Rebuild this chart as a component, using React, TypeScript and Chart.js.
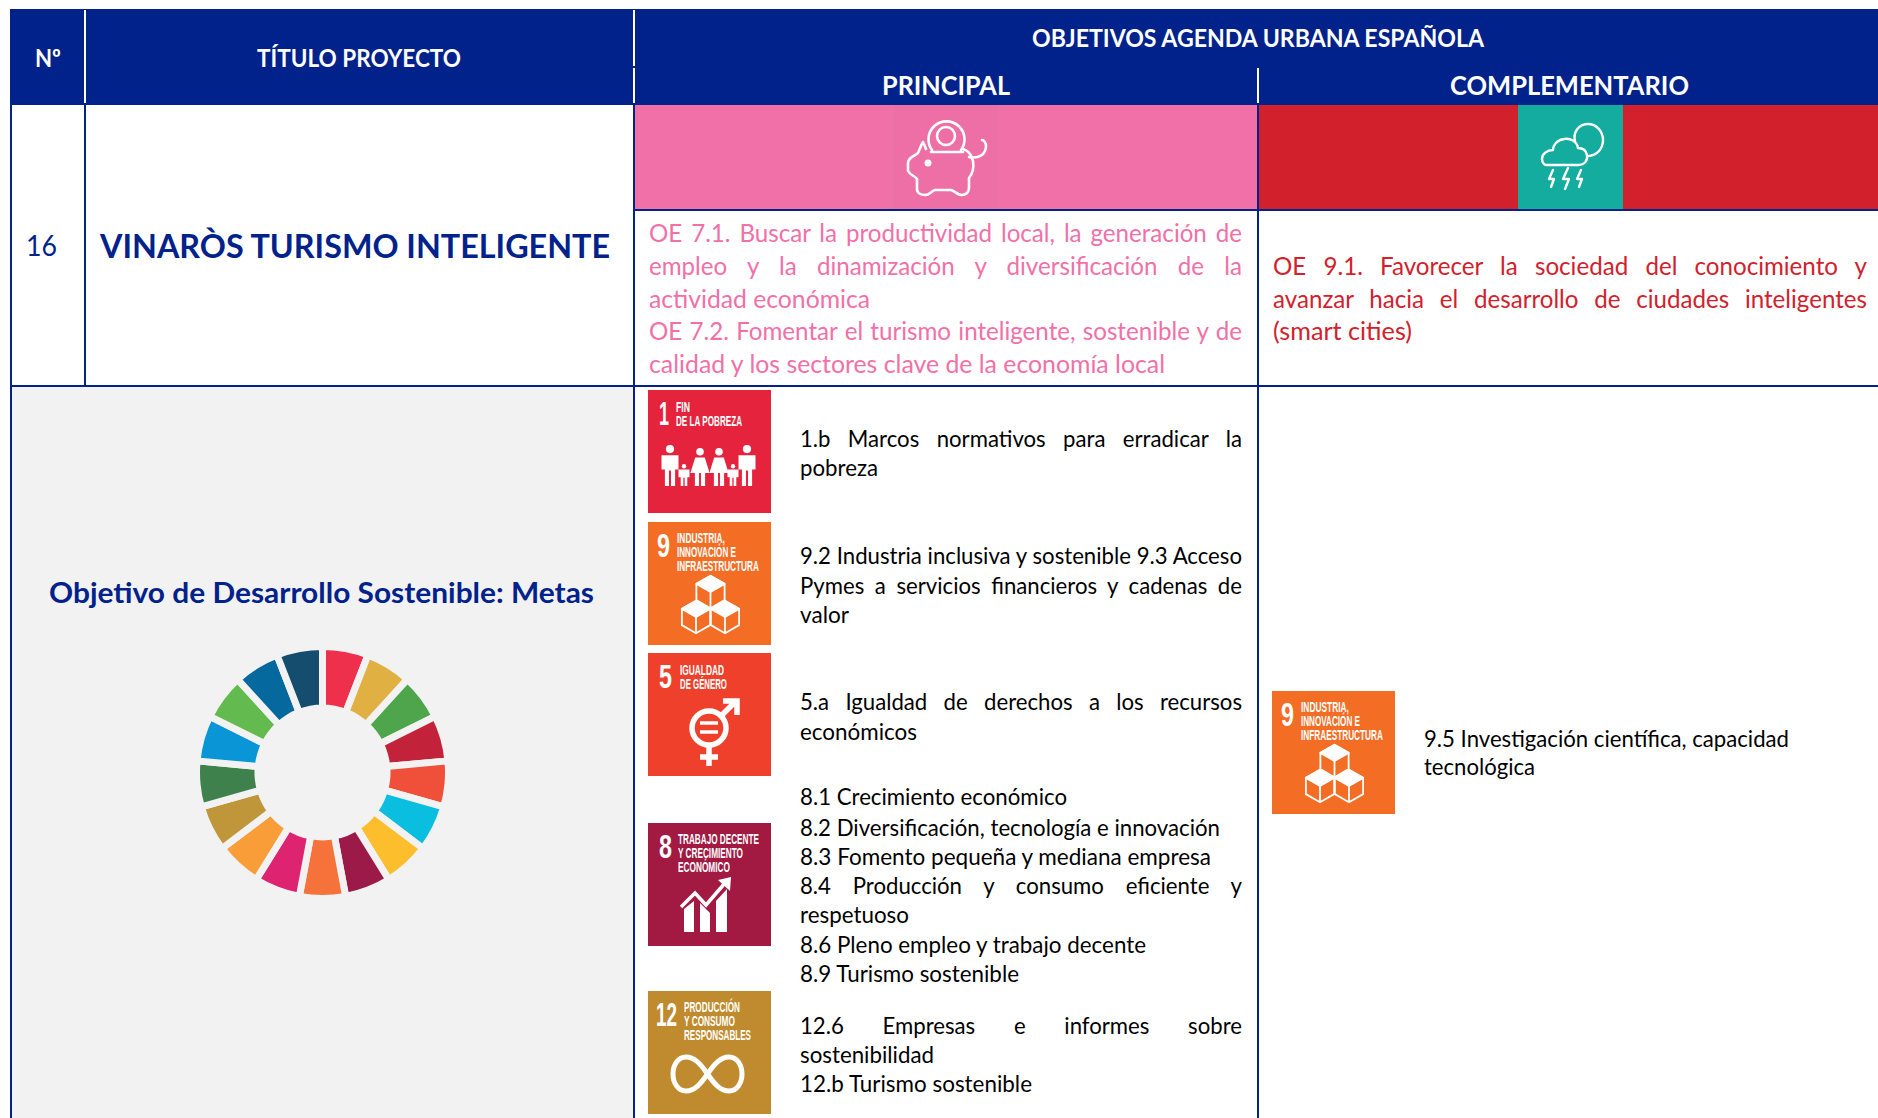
import React, { useEffect, useLayoutEffect, useRef } from "react";
import { Chart, registerables } from "chart.js";

Chart.register(...registerables);

// ---------- chart data ----------
const sdgLabels = [
  "Fin de la pobreza", "Hambre cero", "Salud y bienestar", "Educación de calidad", "Igualdad de género",
  "Agua limpia y saneamiento", "Energía asequible y no contaminante", "Trabajo decente y crecimiento económico",
  "Industria, innovación e infraestructura", "Reducción de las desigualdades", "Ciudades y comunidades sostenibles",
  "Producción y consumo responsables", "Acción por el clima", "Vida submarina", "Vida de ecosistemas terrestres",
  "Paz, justicia e instituciones sólidas", "Alianzas para lograr los objetivos",
];
const sdgValues = [1, 1, 1, 1, 1, 1, 1, 1, 1, 1, 1, 1, 1, 1, 1, 1, 1];
const sdgColors = [
  "#ef304c", "#e0b043", "#4fa54b", "#c2233a", "#f0503a", "#0abee0", "#fcbe2c", "#9c1a48", "#f5733b",
  "#de2370", "#f99d38", "#c0963a", "#3e814d", "#0995d6", "#63ba4e", "#05699d", "#154d6e",
];

// ---------- table text ----------
const pinkLines = [
  "OE 7.1. Buscar la productividad local, la generación de",
  "empleo y la dinamización y diversificación de la",
  "actividad económica",
  "OE 7.2. Fomentar el turismo inteligente, sostenible y de",
  "calidad y los sectores clave de la economía local",
];
const redLines = [
  "OE 9.1. Favorecer la sociedad del conocimiento y",
  "avanzar hacia el desarrollo de ciudades inteligentes",
  "(smart cities)",
];
const metaLines = [
  "1.b Marcos normativos para erradicar la", "pobreza",
  "9.2 Industria inclusiva y sostenible 9.3 Acceso", "Pymes a servicios financieros y cadenas de", "valor",
  "5.a Igualdad de derechos a los recursos", "económicos",
  "8.1 Crecimiento económico", "8.2 Diversificación, tecnología e innovación", "8.3 Fomento pequeña y mediana empresa",
  "8.4 Producción y consumo eficiente y", "respetuoso", "8.6 Pleno empleo y trabajo decente", "8.9 Turismo sostenible",
  "12.6 Empresas e informes sobre", "sostenibilidad", "12.b Turismo sostenible",
];
const compLines = ["9.5 Investigación científica, capacidad", "tecnológica"];

// layout of the lines: [centre y, width]
const pinkLayout = [[232.5, 593], [265.5, 593], [298.5, 221], [330.5, 593], [363.5, 516]];
const redLayout = [[265.5, 594], [298.5, 594], [330.5, 139]];
const metaLayout = [
  [438.5, 442], [467.5, 78], [555.5, 442], [585.5, 442], [614.5, 49], [701.5, 442], [731.5, 117], [797, 267], [827.5, 420],
  [856.5, 411], [885.5, 442], [914.5, 109], [944.5, 346], [973.5, 219], [1025.5, 442], [1054.5, 134], [1083.5, 232],
];
const justified = new Set([
  "OE 7.1. Buscar la productividad local, la generación de",
  "empleo y la dinamización y diversificación de la",
  "OE 7.2. Fomentar el turismo inteligente, sostenible y de",
  "OE 9.1. Favorecer la sociedad del conocimiento y",
  "avanzar hacia el desarrollo de ciudades inteligentes",
  "1.b Marcos normativos para erradicar la",
  "9.2 Industria inclusiva y sostenible 9.3 Acceso",
  "Pymes a servicios financieros y cadenas de",
  "5.a Igualdad de derechos a los recursos",
  "8.4 Producción y consumo eficiente y",
  "12.6 Empresas e informes sobre",
]);

const NAVY = "#00228a";
const FONT = "Lato, 'Noto Sans', sans-serif";
const NARROW = "'Liberation Sans Narrow', 'Liberation Sans', sans-serif";

function Line({ x, y, w, text, size, color, weight = 400 }: any) {
  const ref = useRef<HTMLDivElement>(null);
  const just = justified.has(text);
  const K = 0.985;
  useLayoutEffect(() => {
    const el = ref.current!;
    const nat = el.getBoundingClientRect().width;
    if (just) {
      const k = Math.min(K, w / nat);
      el.style.whiteSpace = "normal";
      el.style.width = w / k + "px";
      el.style.transform = `scaleX(${k})`;
    } else {
      el.style.transform = `scaleX(${w / nat})`;
    }
  }, []);
  const lh = size * 1.3;
  return (
    <div
      ref={ref}
      style={{
        position: "absolute", left: x, top: y - lh / 2, lineHeight: lh + "px", fontSize: size, fontWeight: weight,
        fontFamily: FONT, color, whiteSpace: "nowrap", transformOrigin: "left center",
        textAlign: just ? "justify" : "left", textAlignLast: just ? "justify" : "left",
      }}
    >
      {text}
    </div>
  );
}

function Rect({ x, y, w, h, c }: any) {
  return <div style={{ position: "absolute", left: x, top: y, width: w, height: h, background: c }} />;
}

// white tile text squeezed to the width it has in the reference
function TileText({ x, y, w, size, text }: any) {
  const ref = useRef<SVGTextElement>(null);
  useLayoutEffect(() => {
    const el = ref.current!;
    el.setAttribute("transform", `translate(${x} ${y}) scale(${w / el.getComputedTextLength()} 1)`);
  }, []);
  return <text ref={ref} transform={`translate(${x} ${y})`} fill="#fff" fontFamily={NARROW} fontWeight={700} fontSize={size}>{text}</text>;
}

function cube(cx: number, cy: number, r: number, key: string) {
  const hw = r * 0.866;
  const hex = `${cx},${cy - r} ${cx + hw},${cy - r / 2} ${cx + hw},${cy + r / 2} ${cx},${cy + r} ${cx - hw},${cy + r / 2} ${cx - hw},${cy - r / 2}`;
  const top = `${cx},${cy - r} ${cx + hw},${cy - r / 2} ${cx},${cy} ${cx - hw},${cy - r / 2}`;
  return (
    <g key={key} stroke="#fff" strokeWidth={1.8} strokeLinejoin="round">
      <polygon points={hex} fill="#f36d25" />
      <polygon points={top} fill="#fff" />
      <path d={`M${cx} ${cy}V${cy + r}`} fill="none" />
    </g>
  );
}

function Person({ x, top, bottom, w, skirt }: any) {
  const h = bottom - top;
  const head = h * 0.1;
  return (
    <g fill="#fff">
      <circle cx={x} cy={top + head} r={head} />
      {skirt ? (
        <path d={`M${x - w * 0.3} ${top + h * 0.25}H${x + w * 0.3}L${x + w * 0.6} ${top + h * 0.66}H${x + w * 0.32}V${bottom}H${x + w * 0.06}V${top + h * 0.66}H${x - w * 0.06}V${bottom}H${x - w * 0.32}V${top + h * 0.66}H${x - w * 0.6}Z`} />
      ) : (
        <path d={`M${x - w * 0.5} ${top + h * 0.25}H${x + w * 0.5}V${top + h * 0.6}H${x + w * 0.3}V${bottom}H${x + w * 0.06}V${top + h * 0.62}H${x - w * 0.06}V${bottom}H${x - w * 0.3}V${top + h * 0.6}H${x - w * 0.5}Z`} />
      )}
    </g>
  );
}

function Badge({ x, y, color, num, numX, numW, titleX, title, icon }: any) {
  return (
    <svg style={{ position: "absolute", left: x, top: y }} width={123} height={123} viewBox="0 0 123 123">
      <rect width={123} height={123} fill={color} />
      <TileText x={numX} y={35} w={numW} size={34} text={num} />
      {title.map((t: [string, number], i: number) => (
        <TileText key={i} x={titleX} y={(title.length === 2 ? 22 : 20.5) + i * 14} w={t[1]} size={14.5} text={t[0]} />
      ))}
      {icon}
    </svg>
  );
}

const cubes = [cube(62.5, 70, 16.3, "a"), cube(48, 95, 16.3, "b"), cube(77, 95, 16.3, "c")];

const Badge9 = ({ x, y }: any) => (
  <Badge x={x} y={y} color="#f36d25" num="9" numX={9} numW={13} titleX={29}
    title={[["INDUSTRIA,", 48], ["INNOVACIÓN E", 59], ["INFRAESTRUCTURA", 82]]} icon={cubes} />
);

export default function App() {
  const canvasRef = useRef<HTMLCanvasElement>(null);
  useEffect(() => {
    const chart = new Chart(canvasRef.current!, {
      type: "doughnut",
      data: {
        labels: sdgLabels,
        datasets: [{ data: sdgValues, backgroundColor: sdgColors, borderColor: "#f2f2f2", borderWidth: 7 }],
      },
      options: {
        responsive: false,
        animation: false,
        cutout: "51.2%",
        layout: { padding: 0 },
        plugins: { legend: { display: false }, tooltip: { enabled: false } },
      },
    });
    return () => chart.destroy();
  }, []);

  return (
    <div style={{ position: "fixed", left: 0, top: 0, width: 1878, height: 1118, overflow: "hidden", background: "#fff" }}>
      {/* bands */}
      <Rect x={10} y={9} w={1868} h={96} c={NAVY} />
      <Rect x={635} y={105} w={623} h={105} c="#f170a8" />
      <Rect x={893} y={105} w={105} h={105} c="#ee6fa6" />
      <Rect x={1258} y={105} w={620} h={105} c="#d2212c" />
      <Rect x={1518} y={105} w={105} h={105} c="#14ac9e" />
      <Rect x={12} y={387} w={622} h={731} c="#f2f2f2" />

      {/* header white rules */}
      <Rect x={84} y={10} w={2} h={93} c="#fff" />
      <Rect x={633} y={10} w={2} h={56} c="#fff" />
      <Rect x={633} y={68} w={2} h={35} c="#fff" />
      <Rect x={1257} y={68} w={2} h={35} c="#fff" />

      {/* table rules */}
      <Rect x={10} y={105} w={2} h={1013} c={NAVY} />
      <Rect x={84} y={105} w={2} h={281} c={NAVY} />
      <Rect x={633} y={105} w={2} h={1013} c={NAVY} />
      <Rect x={1257} y={105} w={2} h={1013} c={NAVY} />
      <Rect x={635} y={209} w={1243} h={2} c={NAVY} />
      <Rect x={10} y={385} w={1868} h={2} c={NAVY} />

      {/* header text */}
      <Line x={35} y={57.5} w={26} text="Nº" size={24} color="#fff" weight={700} />
      <Line x={257} y={57.5} w={204} text="TÍTULO PROYECTO" size={24} color="#fff" weight={700} />
      <Line x={1032} y={38} w={452} text="OBJETIVOS AGENDA URBANA ESPAÑOLA" size={24} color="#fff" weight={700} />
      <Line x={882} y={85.5} w={128} text="PRINCIPAL" size={26} color="#fff" weight={700} />
      <Line x={1450} y={85.5} w={239} text="COMPLEMENTARIO" size={26} color="#fff" weight={700} />

      <Line x={26} y={245} w={31} text="16" size={28} color={NAVY} />
      <Line x={100} y={246} w={510} text="VINARÒS TURISMO INTELIGENTE" size={32} color={NAVY} weight={700} />
      <Line x={49} y={592} w={545} text="Objetivo de Desarrollo Sostenible: Metas" size={29} color={NAVY} weight={700} />

      {pinkLines.map((t, i) => (
        <Line key={t} x={649} y={pinkLayout[i][0]} w={pinkLayout[i][1]} text={t} size={24.5} color="#f170a8" />
      ))}
      {redLines.map((t, i) => (
        <Line key={t} x={1273} y={redLayout[i][0]} w={redLayout[i][1]} text={t} size={24.5} color="#d2212c" />
      ))}
      {metaLines.map((t, i) => (
        <Line key={t} x={800} y={metaLayout[i][0]} w={metaLayout[i][1]} text={t} size={22.5} color="#000" />
      ))}
      <Line x={1424} y={739} w={365} text={compLines[0]} size={22.5} color="#000" />
      <Line x={1424} y={767} w={111} text={compLines[1]} size={22.5} color="#000" />

      {/* piggy bank icon */}
      <svg style={{ position: "absolute", left: 893, top: 105 }} width={105} height={105} viewBox="0 0 105 105" fill="none" stroke="#fff" strokeWidth={2.6} strokeLinejoin="round" strokeLinecap="round">
        <path d="M33 44C32 41 31 39 30 37C28 40 27 44 25 48C20 52 15 53 15 58L15 66C17 70 22 71 24 74L24 84C24 88 28 90 32 90C37 90 38 86 42 85L58 85C62 86 64 90 69 90C73 90 76 87 76 83L76 73C80 68 81 62 80 56C79 51 76 46 70 44" />
        <path d="M38 47H70" />
        <path d="M76 52C85 54 93 50 93 41C93 38 91 35 89 35" />
        <path d="M39 45A18 18 0 1 1 68 45" />
        <circle cx="53" cy="31" r="9" />
        <circle cx="35" cy="58" r="2.2" fill="#fff" />
      </svg>

      {/* storm icon */}
      <svg style={{ position: "absolute", left: 1522, top: 105 }} width={108} height={105} viewBox="0 0 108 105" fill="none" stroke="#fff" strokeWidth={2.4} strokeLinejoin="round" strokeLinecap="round">
        <path d="M24 60H56C63 60 66 55 65 50C64 45 60 43 56 43C55 36 48 33 42 34C35 35 31 40 31 45C25 45 20 49 20 54C20 57 22 60 24 60Z" />
        <path d="M53 36C51 28 56 19 66 19C74 19 81 26 81 35C81 44 75 50 67 51" />
        <path d="M31 65L27 74H32L29 82" />
        <path d="M46 63L41 74H47L43 84" />
        <path d="M59 65L55 74H60L57 82" />
      </svg>

      {/* goal tiles */}
      <Badge x={648} y={390} color="#e5233d" num="1" numX={11} numW={10} titleX={28}
        title={[["FIN", 14], ["DE LA POBREZA", 66]]}
        icon={
          <g>
            <Person x={22} top={55} bottom={96} w={17} />
            <Person x={52} top={58} bottom={96} w={16} skirt />
            <Person x={71} top={58} bottom={96} w={16} skirt />
            <Person x={99} top={55} bottom={96} w={17} />
            <Person x={36} top={74} bottom={96} w={11} />
            <Person x={85} top={74} bottom={96} w={11} />
          </g>
        } />
      <Badge9 x={648} y={522} />
      <Badge x={648} y={653} color="#ef402b" num="5" numX={11} numW={13} titleX={32}
        title={[["IGUALDAD", 44], ["DE GÉNERO", 47]]}
        icon={
          <g fill="none" stroke="#fff" strokeWidth={5.5}>
            <circle cx="61" cy="75" r="17" />
            <path d="M73 63L87 49M75 48H89V62" />
            <path d="M61 92V113M52 104H70" />
            <path d="M52 70H70M52 79H70" strokeWidth={3.5} />
          </g>
        } />
      <Badge x={648} y={823} color="#a21942" num="8" numX={11} numW={13} titleX={30}
        title={[["TRABAJO DECENTE", 81], ["Y CRECIMIENTO", 65], ["ECONÓMICO", 52]]}
        icon={
          <g fill="#fff">
            <path d="M36 86L46 78V109H36Z" />
            <path d="M52 80L62 90V109H52Z" />
            <path d="M68 78L79 66V109H68Z" />
            <path d="M33 84L47 70L58 82L77 60" fill="none" stroke="#fff" strokeWidth={3.5} />
            <path d="M70 57L83 54L82 68Z" />
          </g>
        } />
      <Badge x={648} y={991} color="#bf8b2e" num="12" numX={8} numW={21} titleX={36}
        title={[["PRODUCCIÓN", 56], ["Y CONSUMO", 51], ["RESPONSABLES", 67]]}
        icon={
          <g fill="none" stroke="#fff" strokeWidth={5}>
            <path d="M59.5 83C52 72 46 66 38 66C30 66 25 74 25 83C25 92 30 100 38 100C46 100 52 94 59.5 83C67 72 73 66 81 66C89 66 94 74 94 83C94 92 89 100 81 100C73 100 67 94 59.5 83Z" />
          </g>
        } />
      <Badge9 x={1272} y={691} />

      {/* SDG wheel */}
      <canvas ref={canvasRef} width={259} height={259} style={{ position: "absolute", left: 193, top: 643, width: 259, height: 259 }} />
    </div>
  );
}
